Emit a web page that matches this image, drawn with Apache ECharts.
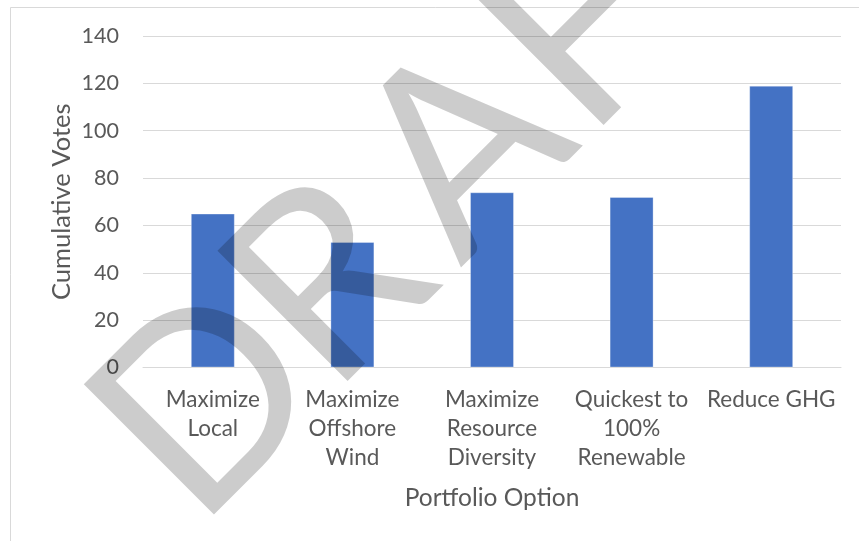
<!DOCTYPE html>
<html>
<head>
<meta charset="utf-8">
<title>Cumulative Votes by Portfolio Option</title>
<script src="https://cdn.jsdelivr.net/npm/echarts@6/dist/echarts.min.js"></script>
<style>
  html, body { margin: 0; padding: 0; background: #ffffff; }
  #chart { width: 859px; height: 541px; }
</style>
</head>
<body>
<div id="chart"></div>
<script>
// Portfolio options and the votes each received
const categories = [
  'Maximize\nLocal',
  'Maximize\nOffshore\nWind',
  'Maximize\nResource\nDiversity',
  'Quickest to\n100%\nRenewable',
  'Reduce GHG'
];
const votes = [65, 53, 74, 72, 119];

// Value axis range
const yMin = 0;
const yMax = 140;
const yStep = 20;

const xTitle = 'Portfolio Option';
const yTitle = 'Cumulative Votes';
const watermarkLetters = ['D', 'R', 'A', 'F', 'T'];

const FONT = 'Lato, "Open Sans", sans-serif';
const TEXT_COLOR = '#595959';
const GRID_COLOR = '#d9d9d9';
const BAR_COLOR = '#4472C4';

// ---- diagonal watermark layout (45° baseline running up to the right) ----
const WM_FAMILY = 'Lato, "Open Sans", sans-serif';
const WM_CAP = 185;            // cap height along the slant, px
const WM_BASE_SUM = 728.5;     // baseline satisfies x + y = const
// left edge of each glyph, measured along the baseline from its midpoint
const WM_LEFT = [-216, -27, 136, 335, 532];

function watermarkGraphics() {
  const ctx = document.createElement('canvas').getContext('2d');
  ctx.font = 'normal 100px ' + WM_FAMILY;
  ctx.textBaseline = 'alphabetic';
  const capRatio = ctx.measureText('D').actualBoundingBoxAscent / 100;
  const size = WM_CAP / capRatio;
  const font = 'normal ' + size.toFixed(2) + 'px ' + WM_FAMILY;
  ctx.font = font;
  ctx.textBaseline = 'middle';
  // distance from the em middle line down to the alphabetic baseline
  const midToBase = ctx.measureText('D').actualBoundingBoxDescent;
  ctx.textBaseline = 'alphabetic';

  const c = Math.SQRT1_2;
  const o = WM_BASE_SUM / 2;
  return watermarkLetters.map((ch, i) => {
    const bbLeft = ctx.measureText(ch).actualBoundingBoxLeft; // >0 when ink left of origin
    const s = WM_LEFT[i] + bbLeft;
    // point on the baseline, then up (perpendicular) to the em middle
    const bx = o + c * s, by = o - c * s;
    const px = bx - c * midToBase, py = by - c * midToBase;
    return {
      type: 'text',
      silent: true,
      z: 100,
      x: px,
      y: py,
      rotation: Math.PI / 4,
      style: {
        text: ch,
        x: 0, y: 0,
        align: 'left',
        verticalAlign: 'middle',
        font: font,
        fill: 'rgba(0,0,0,0.2)'
      }
    };
  });
}

const chart = echarts.init(document.getElementById('chart'), null, { renderer: 'canvas' });

chart.setOption({
  animation: false,
  backgroundColor: '#ffffff',
  textStyle: { fontFamily: FONT },
  grid: { left: 143, right: 18, top: 36, bottom: 173.5, containLabel: false },
  xAxis: {
    type: 'category',
    data: categories,
    name: xTitle,
    nameLocation: 'middle',
    nameGap: 118,
    nameMoveOverlap: false,
    nameTextStyle: { fontFamily: FONT, fontSize: 24.5, color: TEXT_COLOR },
    axisLine: { show: true, lineStyle: { color: GRID_COLOR, width: 1 } },
    axisTick: { show: false },
    axisLabel: {
      fontFamily: FONT, fontSize: 22.5, color: TEXT_COLOR,
      lineHeight: 29, margin: 18, interval: 0
    }
  },
  yAxis: {
    type: 'value',
    min: yMin, max: yMax, interval: yStep,
    name: yTitle,
    nameLocation: 'middle',
    nameGap: 68,
    nameMoveOverlap: false,
    nameRotate: 90,
    nameTextStyle: { fontFamily: FONT, fontSize: 25.5, color: TEXT_COLOR },
    axisLine: { show: false },
    axisTick: { show: false },
    axisLabel: { fontFamily: FONT, fontSize: 21.5, color: TEXT_COLOR, margin: 24 },
    splitLine: { show: true, lineStyle: { color: GRID_COLOR, width: 1 } }
  },
  series: [{
    type: 'bar',
    data: votes,
    barWidth: '31.5%',
    itemStyle: { color: BAR_COLOR, borderColor: 'rgba(255,255,255,0.3)', borderWidth: 1 },
    z: 2
  }],
  graphic: [
    {
      // chart area frame
      type: 'rect',
      silent: true,
      z: -10,
      shape: { x: 10.5, y: 7.5, width: 900, height: 600 },
      style: { fill: 'none', stroke: GRID_COLOR, lineWidth: 1 }
    }
  ].concat(watermarkGraphics())
});
</script>
</body>
</html>
